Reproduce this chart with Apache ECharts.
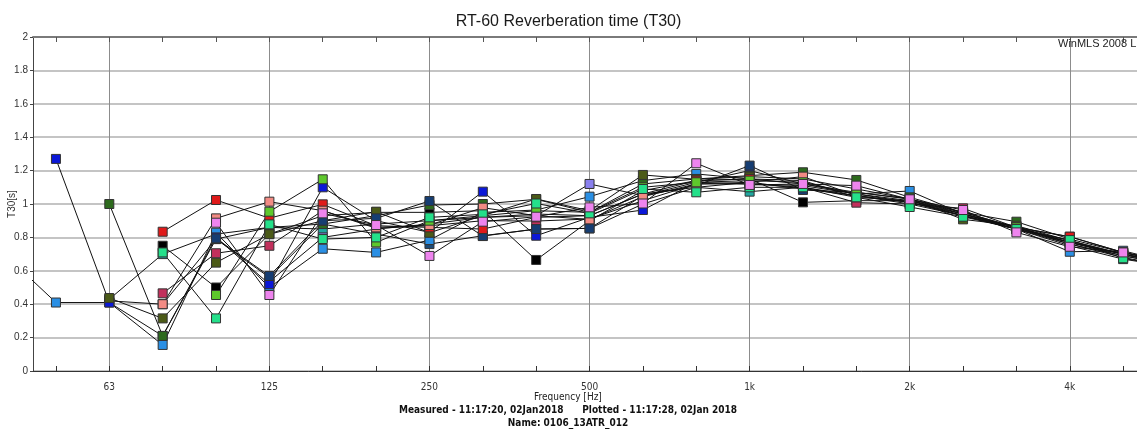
<!DOCTYPE html>
<html>
<head>
<meta charset="utf-8">
<script src="https://cdn.jsdelivr.net/npm/echarts@6/dist/echarts.min.js"></script>
<style>
html,body{margin:0;padding:0;background:#fff;}
#c{width:1137px;height:435px;}
</style>
</head>
<body>
<div id="c"></div>
<script>
// 1/3-octave band centre frequencies (index = position on x axis)
const bands = ['40','50','63','80','100','125','160','200','250','315','400','500','630','800','1k','1.25k','1.6k','2k','2.5k','3.15k','4k','5k','6.3k'];
const majorTickIdx = [2,5,8,11,14,17,20];   // labelled octave bands: 63,125,250,500,1k,2k,4k

// T30 [s] per position, one value per band above (null = no value)
const teal      = [null,null,0.43,0.70,0.82,0.86,0.85,0.88,0.90,0.92,0.94,0.93,1.06,1.10,1.074,1.10,1.05,1.00,0.93,0.85,0.76,0.68,0.62];
const navy2     = [null,null,0.42,0.40,0.79,0.56,0.88,0.82,0.76,0.81,0.85,0.854,1.00,1.10,1.13,1.09,1.05,1.01,0.93,0.85,0.75,0.67,0.62];
const lightblue = [0.71,0.41,0.41,0.156,0.828,0.50,0.732,0.71,0.784,0.95,0.964,1.044,1.14,1.18,1.15,1.12,1.06,1.078,0.94,0.85,0.714,0.72,0.64];
const purple    = [null,null,null,null,null,0.535,0.80,0.85,0.88,0.92,0.93,1.12,1.05,1.13,1.12,1.11,1.06,1.02,0.94,0.86,0.77,0.70,0.63];
const blue      = [null,1.27,0.41,0.21,0.80,0.52,1.10,0.90,0.83,1.074,0.81,0.92,0.964,1.13,1.20,1.12,1.07,1.03,0.95,0.86,0.77,0.70,0.64];
const black     = [null,null,null,0.75,0.50,0.82,0.93,0.95,0.95,0.96,0.665,0.90,1.08,1.14,1.15,1.01,1.02,1.02,0.93,0.85,0.77,0.70,0.63];
const darkgreen = [null,null,1.00,0.21,0.79,0.86,0.88,0.93,0.994,1.00,1.028,0.95,1.12,1.15,1.17,1.19,1.144,1.04,0.95,0.894,0.79,0.71,0.65];
const olive     = [null,null,0.437,0.315,0.649,0.819,0.90,0.954,0.828,0.93,1.03,0.96,1.174,1.148,1.164,1.15,1.09,1.03,0.908,0.87,0.78,0.70,0.64];
const crimson   = [null,null,null,0.465,0.705,0.75,0.96,0.855,0.87,0.90,0.898,0.91,1.02,1.12,1.12,1.10,1.008,1.00,0.974,0.86,0.804,0.71,0.64];
const navy      = [null,null,null,null,0.794,0.569,0.90,0.914,1.018,0.808,0.85,0.854,1.05,1.11,1.23,1.084,1.07,1.03,0.94,0.86,0.76,0.69,0.63];
const red       = [null,null,null,0.834,1.024,0.915,0.998,0.87,0.86,0.85,0.92,0.93,1.06,1.14,1.15,1.14,1.04,1.02,0.95,0.86,0.804,0.71,0.64];
const salmon    = [null,null,null,0.40,0.914,1.014,0.96,0.86,0.874,0.978,0.93,0.908,1.044,1.12,1.13,1.164,1.05,1.01,0.94,0.86,0.78,0.70,0.63];
const lime      = [null,null,null,null,0.455,0.954,1.148,0.77,0.90,0.93,0.96,0.95,1.10,1.13,1.14,1.13,1.06,1.01,0.93,0.86,0.77,0.69,0.63];
const springgreen=[null,null,null,0.71,0.315,0.878,0.79,0.80,0.92,0.938,1.003,0.944,1.09,1.07,1.10,1.10,1.04,0.982,0.924,0.85,0.784,0.675,0.62];
const violet    = [null,null,null,null,0.888,0.455,0.944,0.874,0.689,0.894,0.924,0.98,1.003,1.244,1.114,1.12,1.11,1.028,0.964,0.83,0.744,0.71,0.64];

// drawing order: first = bottom, last = top
const seriesDefs = [
  ['Pos 1', teal, '#1fa6a0'],
  ['Pos 2', navy2, '#1d4b78'],
  ['Pos 3', lightblue, '#2a8fe4'],
  ['Pos 4', purple, '#8a80ee'],
  ['Pos 5', blue, '#0b18d8'],
  ['Pos 6', black, '#000000'],
  ['Pos 7', darkgreen, '#2d6a1d'],
  ['Pos 8', olive, '#4b5a17'],
  ['Pos 9', crimson, '#c2305c'],
  ['Pos 10', navy, '#163d72'],
  ['Pos 11', red, '#df1a1a'],
  ['Pos 12', salmon, '#f28b84'],
  ['Pos 13', lime, '#5ec82c'],
  ['Pos 14', springgreen, '#24e08a'],
  ['Pos 15', violet, '#ee84ee']
];

const allBandIdx = bands.map((b,i)=>i);
const series = seriesDefs.map(([name, vals, col]) => ({
  name: name,
  type: 'line',
  xAxisIndex: 0,
  yAxisIndex: 0,
  data: vals.map((v,i)=> v==null ? null : [i, v]).filter(d=>d),
  symbol: 'rect',
  symbolSize: 9,
  clip: true,
  lineStyle: {color: '#111', width: 1},
  itemStyle: {color: col, borderColor: '#333', borderWidth: 1},
  emphasis: {disabled: true},
  animation: false
}));

const FONT = "'Liberation Sans', Arial, sans-serif";
const NARROW = "'Liberation Sans Narrow', 'DejaVu Sans Condensed', 'Liberation Sans', sans-serif";
const xMin = 0.57, xMax = 21.26;

const chart = echarts.init(document.getElementById('c'), null, {renderer: 'canvas'});
chart.setOption({
  animation: false,
  backgroundColor: '#fff',
  title: {
    text: 'RT-60 Reverberation time (T30)',
    left: 'center', top: 9,
    textStyle: {fontFamily: FONT, fontSize: 16, fontWeight: 'normal', color: '#1a1a1a'}
  },
  grid: {left: 33, right: 0, top: 37, bottom: 64, containLabel: false, outerBoundsMode: 'none'},
  xAxis: [
    {
      type: 'value', min: xMin, max: xMax, position: 'bottom', offset: 5,
      axisLine: {show: true, lineStyle: {color: '#333', width: 1}},
      axisTick: {show: true, inside: true, length: 5, customValues: allBandIdx.slice(1, 22), lineStyle: {color: '#333'}},
      axisLabel: {show: true, customValues: majorTickIdx, margin: 6, formatter: v => bands[Math.round(v)],
                  fontFamily: NARROW, fontSize: 10, color: '#333'},
      splitLine: {show: false}
    },
    {
      type: 'value', min: xMin, max: xMax, position: 'top',
      axisLine: {show: true, lineStyle: {color: '#7a7a7a', width: 2}},
      axisTick: {show: true, inside: true, length: 5, customValues: allBandIdx.slice(1, 22), lineStyle: {color: '#555'}},
      axisLabel: {show: false},
      splitLine: {show: false}
    },
    {
      type: 'value', min: xMin, max: xMax, position: 'bottom',
      axisLine: {show: false},
      axisTick: {show: false, customValues: majorTickIdx},
      axisLabel: {show: false},
      splitLine: {show: true, lineStyle: {color: '#8c8c8c', width: 1}}
    }
  ],
  yAxis: {
    type: 'value', min: 0, max: 2, interval: 0.2,
    name: 'T30[s]', nameLocation: 'middle', nameGap: 16, nameMoveOverlap: false,
    nameTextStyle: {fontFamily: FONT, fontSize: 10, color: '#333'},
    axisLine: {show: true, lineStyle: {color: '#444', width: 1}},
    axisTick: {show: true, length: 3, lineStyle: {color: '#444'}},
    axisLabel: {margin: 5, fontFamily: FONT, fontSize: 10, color: '#333',
                formatter: v => String(+v.toFixed(1))},
    splitLine: {show: true, lineStyle: {color: '#b0b0b0', width: 1.5}}
  },
  graphic: [
    {type: 'text', z: 100, style: {text: 'WinMLS 2008 L', x: 1058, y: 44, textVerticalAlign: 'middle',
      fontFamily: FONT, fontSize: 11, fill: '#222'}},
    {type: 'text', style: {text: 'Frequency [Hz]', x: 568, y: 397, textAlign: 'center', textVerticalAlign: 'middle',
      fontFamily: NARROW, fontSize: 10, fill: '#222'}},
    {type: 'text', style: {text: 'Measured - 11:17:20, 02Jan2018      Plotted - 11:17:28, 02Jan 2018', x: 568, y: 410,
      textAlign: 'center', textVerticalAlign: 'middle', fontFamily: NARROW, fontSize: 10, fontWeight: 'bold', fill: '#111'}},
    {type: 'text', style: {text: 'Name: 0106_13ATR_012', x: 568, y: 423,
      textAlign: 'center', textVerticalAlign: 'middle', fontFamily: NARROW, fontSize: 10, fontWeight: 'bold', fill: '#111'}}
  ],
  series: series
});
</script>
</body>
</html>
